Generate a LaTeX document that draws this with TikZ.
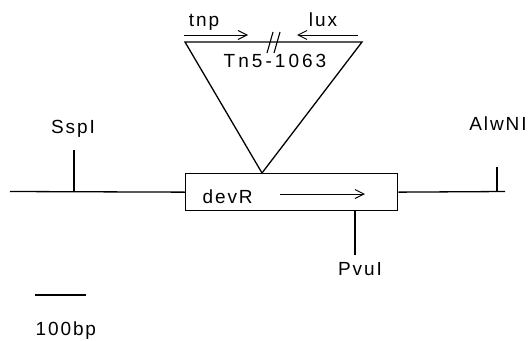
\documentclass[tikz,border=0pt]{standalone}
\usepackage{fontspec}
\setmainfont{Liberation Sans}[LetterSpace=10]
\usetikzlibrary{arrows.meta}
\begin{document}
\begin{tikzpicture}[x=1pt,y=-1pt,line width=1.3pt,
  lbl/.style={font=\fontsize{19}{22}\selectfont,inner sep=0pt,anchor=base},
  genebox/.style={draw,line width=1.3pt,inner sep=0pt,minimum width=212pt,minimum height=37pt},
  dirarrow/.style={line width=1pt,-{Straight Barb[length=9pt,width=9pt]}}]
\useasboundingbox (0,0) rectangle (530,340);
% gene box and backbone
\node[genebox,anchor=north west] (box) at (185,173) {};
\coordinate (L) at (10,191.5);
\coordinate (R) at (505,191.5);
\draw (L) -- (box.west);
\draw (box.east) -- (R);
\node[lbl,anchor=base west] (devr) at (202,203) {devR};
\coordinate (a1) at (280,194);
\coordinate (a2) at (365,194);
\draw[dirarrow] (a1) -- (a2);
% restriction sites
\coordinate (s1) at (74,191.5);
\coordinate (s2) at (74,150);
\draw (s1) -- (s2);
\node[lbl] (sspi) at (73,133) {SspI};
\coordinate (w1) at (497,191.5);
\coordinate (w2) at (497,167);
\draw (w1) -- (w2);
\node[lbl] (alwni) at (498,130) {AlwNI};
\coordinate (p1) at (355,210);
\coordinate (p2) at (355,255);
\draw (p1) -- (p2);
\node[lbl] (pvui) at (360,275) {PvuI};
% transposon insertion
\coordinate (tl) at (185,42);
\coordinate (tr) at (362,42);
\coordinate (apex) at (262,173);
\draw[line join=miter] (tl) -- (tr) -- (apex) -- cycle;
\coordinate (b1) at (267,53);
\coordinate (b2) at (273,32);
\coordinate (b3) at (274,53);
\coordinate (b4) at (280,32);
\draw[line width=1.1pt] (b1) -- (b2);
\draw[line width=1.1pt] (b3) -- (b4);
\node[lbl] (tn5) at (275,67) {\addfontfeature{LetterSpace=16}Tn5-1063};
\node[lbl] (tnp) at (204,27) {tnp};
\node[lbl] (lux) at (323,27) {lux};
\coordinate (t1) at (184,35);
\coordinate (t2) at (248,35);
\draw[dirarrow] (t1) -- (t2);
\coordinate (x1) at (358,35);
\coordinate (x2) at (297,35);
\draw[dirarrow] (x1) -- (x2);
% scale bar
\coordinate (sb1) at (35,295);
\coordinate (sb2) at (86,295);
\draw (sb1) -- (sb2);
\node[lbl,anchor=base west] (scale) at (35,335) {100bp};
\end{tikzpicture}
\end{document}
